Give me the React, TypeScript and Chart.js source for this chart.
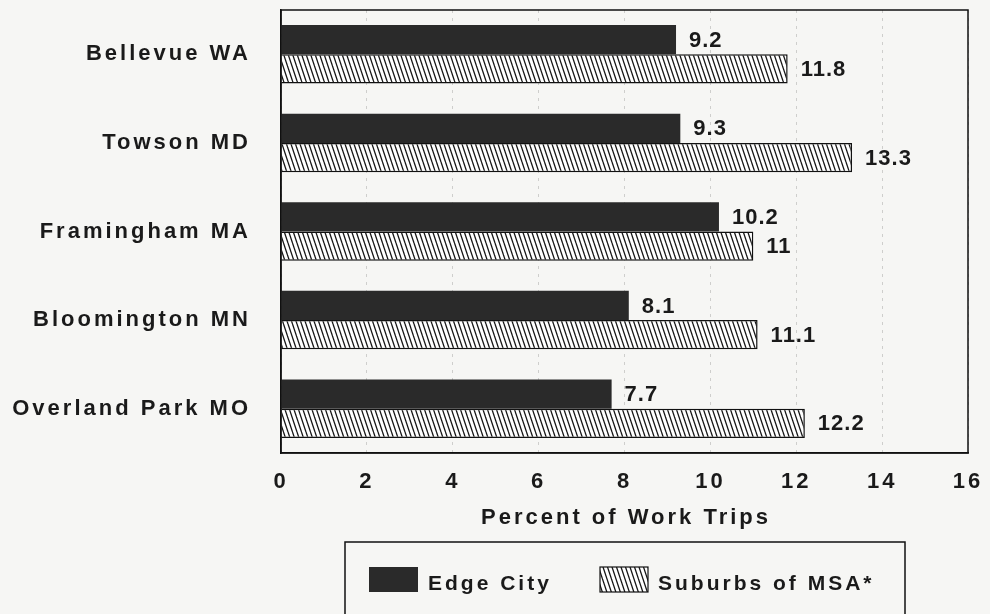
import React, { useEffect, useRef } from "react";
import { Chart, registerables } from "chart.js";

Chart.register(...registerables);

const categories = ["Bellevue WA", "Towson MD", "Framingham MA", "Bloomington MN", "Overland Park MO"];
const edgeCity = [9.2, 9.3, 10.2, 8.1, 7.7];
const suburbs = [11.8, 13.3, 11, 11.1, 12.2];
const seriesNames = ["Edge City", "Suburbs of MSA*"];
const xMin = 0;
const xMax = 16;
const xStep = 2;
const axisTitle = "Percent of Work Trips";

const FONT = '"Liberation Sans", Arial, sans-serif';
const INK = "#1a1a1a";
const DARK = "#2a2a2a";
const BG = "#f6f6f4";

function makeHatch(ctx: CanvasRenderingContext2D): CanvasPattern | string {
  const c = document.createElement("canvas");
  c.width = 9;
  c.height = 27;
  const g = c.getContext("2d");
  if (!g) return "#fff";
  g.fillStyle = "#ffffff";
  g.fillRect(0, 0, 9, 27);
  g.strokeStyle = "#151515";
  g.lineWidth = 1.3;
  for (const off of [-13.5, -9, -4.5, 0, 4.5, 9]) {
    g.beginPath();
    g.moveTo(off, 0);
    g.lineTo(off + 9, 27);
    g.stroke();
  }
  return ctx.createPattern(c, "repeat") || "#fff";
}

export default function App() {
  const ref = useRef<HTMLCanvasElement | null>(null);

  useEffect(() => {
    document.body.style.margin = "0";
    document.body.style.background = BG;
    const canvas = ref.current;
    if (!canvas) return;
    const ctx0 = canvas.getContext("2d") as CanvasRenderingContext2D;
    const hatch = makeHatch(ctx0);

    const bgPlugin = {
      id: "bgPlugin",
      beforeDraw(chart: any) {
        const { ctx, width, height } = chart;
        ctx.save();
        ctx.fillStyle = BG;
        ctx.fillRect(0, 0, width, height);
        ctx.restore();
        (ctx as any).letterSpacing = "3px";
      },
    };

    const labelPlugin = {
      id: "labelPlugin",
      afterDatasetsDraw(chart: any) {
        const ctx = chart.ctx;
        ctx.save();
        (ctx as any).letterSpacing = "1px";
        ctx.font = `bold 22px ${FONT}`;
        ctx.fillStyle = INK;
        ctx.textAlign = "left";
        ctx.textBaseline = "middle";
        chart.data.datasets.forEach((ds: any, i: number) => {
          const meta = chart.getDatasetMeta(i);
          meta.data.forEach((bar: any, j: number) => {
            ctx.fillText(String(ds.data[j]), bar.x + 13, bar.y + 1);
          });
        });
        ctx.restore();
      },
      afterDraw(chart: any) {
        const ctx = chart.ctx;
        const a = chart.chartArea;
        ctx.save();
        ctx.strokeStyle = "#111";
        ctx.lineWidth = 1.5;
        ctx.strokeRect(a.left, a.top, a.right - a.left, a.bottom - a.top);

        (ctx as any).letterSpacing = "3px";
        ctx.fillStyle = INK;
        ctx.font = `bold 22px ${FONT}`;
        ctx.textAlign = "center";
        ctx.textBaseline = "alphabetic";
        ctx.fillText(axisTitle, (a.left + a.right) / 2 + 1.5, 524);

        // legend
        ctx.lineWidth = 1.5;
        ctx.strokeStyle = "#111";
        ctx.strokeRect(345, 542, 560, 120);
        const ds = chart.data.datasets;
        ctx.fillStyle = ds[0].backgroundColor;
        ctx.fillRect(369, 567, 49, 25);
        ctx.fillStyle = ds[1].backgroundColor;
        ctx.fillRect(600, 567, 48, 25);
        ctx.lineWidth = 1.2;
        ctx.strokeRect(600, 567, 48, 25);
        ctx.fillStyle = INK;
        ctx.font = `bold 21px ${FONT}`;
        ctx.textAlign = "left";
        ctx.fillText(ds[0].label, 428, 590);
        ctx.fillText(ds[1].label, 658, 590);
        ctx.restore();
      },
    };

    const chart = new Chart(canvas, {
      type: "bar",
      data: {
        labels: categories,
        datasets: [
          {
            label: seriesNames[0],
            data: edgeCity,
            backgroundColor: DARK,
            borderWidth: 0,
            categoryPercentage: 0.66,
            barPercentage: 1.0,
          },
          {
            label: seriesNames[1],
            data: suburbs,
            backgroundColor: hatch as any,
            borderColor: "#111",
            borderWidth: 1.5,
            categoryPercentage: 0.66,
            barPercentage: 1.0,
          },
        ],
      },
      options: {
        indexAxis: "y",
        animation: false,
        responsive: false,
        devicePixelRatio: 1,
        layout: { padding: { left: 0, top: 10, right: 22, bottom: 0 } },
        plugins: {
          legend: { display: false },
          tooltip: { enabled: false },
        },
        scales: {
          x: {
            min: xMin,
            max: xMax,
            ticks: {
              stepSize: xStep,
              color: INK,
              font: { family: FONT, size: 22, weight: "bold", lineHeight: 1 },
              padding: 0,
              maxRotation: 0,
            },
            grid: {
              color: "rgba(0,0,0,0.16)",
              lineWidth: 1,
              drawTicks: true,
              tickLength: 18,
              tickColor: "rgba(0,0,0,0)",
            },
            border: { display: true, color: "#111", width: 1.5, dash: [3, 5] },
            afterFit(scale: any) {
              scale.height = 161;
            },
          },
          y: {
            ticks: {
              color: INK,
              font: { family: FONT, size: 22, weight: "bold", lineHeight: 0.8 },
              padding: 0,
            },
            grid: {
              display: true,
              drawOnChartArea: false,
              color: "rgba(0,0,0,0)",
              drawTicks: true,
              tickLength: 30,
              tickColor: "rgba(0,0,0,0)",
            },
            border: { display: true, color: "#111", width: 1.5 },
            afterFit(scale: any) {
              scale.width = 281;
            },
          },
        },
      },
      plugins: [bgPlugin, labelPlugin],
    } as any);

    return () => chart.destroy();
  }, []);

  return <canvas ref={ref} width={990} height={614} style={{ display: "block", width: 990, height: 614 }} />;
}
